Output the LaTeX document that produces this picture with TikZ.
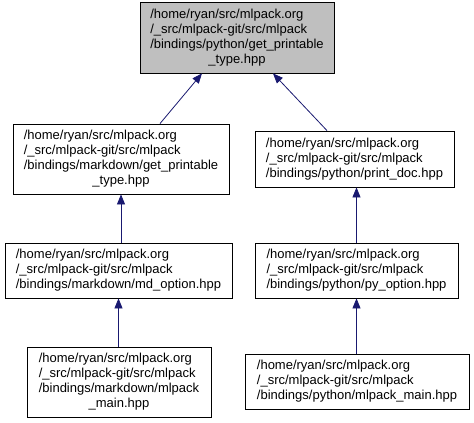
\documentclass[tikz,border=0pt]{standalone}
\usepackage{fontspec}
\setmainfont{Liberation Sans}
\usetikzlibrary{arrows.meta}
\definecolor{edgeblue}{HTML}{191970}
\definecolor{rootgray}{HTML}{BFBFBF}
\tikzset{file/.style={draw=black,line width=0.8pt,inner sep=0pt,font=\fontsize{13}{15}\selectfont},
  edge/.style={edgeblue,line width=0.8pt,{Triangle[length=10pt,width=8pt]}-}}
\begin{document}
\begin{tikzpicture}[x=1pt,y=-1pt]
      \useasboundingbox (0,0) rectangle (474,423);
      \node[file,fill=rootgray,minimum width=194pt,minimum height=71pt] (G) at (237,37.5)
            {\begin{tabular}{@{}l@{}}/home/ryan/src/mlpack.org\\/\_src/mlpack-git/src/mlpack\\/bindings/python/get\_printable\\\multicolumn{1}{@{}c@{}}{\_type.hpp}\end{tabular}};
      \node[file,minimum width=216pt,minimum height=70pt] (MG) at (121,159)
            {\begin{tabular}{@{}l@{}}/home/ryan/src/mlpack.org\\/\_src/mlpack-git/src/mlpack\\/bindings/markdown/get\_printable\\\multicolumn{1}{@{}c@{}}{\_type.hpp}\end{tabular}};
      \node[file,minimum width=199pt,minimum height=56pt] (PD) at (354.5,159)
            {\begin{tabular}{@{}l@{}}/home/ryan/src/mlpack.org\\/\_src/mlpack-git/src/mlpack\\/bindings/python/print\_doc.hpp\end{tabular}};
      \node[file,minimum width=227pt,minimum height=55pt] (MO) at (118.5,270.5)
            {\begin{tabular}{@{}l@{}}/home/ryan/src/mlpack.org\\/\_src/mlpack-git/src/mlpack\\/bindings/markdown/md\_option.hpp\end{tabular}};
      \node[file,minimum width=203pt,minimum height=55pt] (PO) at (356.5,270.5)
            {\begin{tabular}{@{}l@{}}/home/ryan/src/mlpack.org\\/\_src/mlpack-git/src/mlpack\\/bindings/python/py\_option.hpp\end{tabular}};
      \node[file,minimum width=184pt,minimum height=70pt] (MM) at (119,382)
            {\begin{tabular}{@{}l@{}}/home/ryan/src/mlpack.org\\/\_src/mlpack-git/src/mlpack\\/bindings/markdown/mlpack\\\multicolumn{1}{@{}c@{}}{\_main.hpp}\end{tabular}};
      \node[file,minimum width=224pt,minimum height=55pt] (PM) at (357,381.5)
            {\begin{tabular}{@{}l@{}}/home/ryan/src/mlpack.org\\/\_src/mlpack-git/src/mlpack\\/bindings/python/mlpack\_main.hpp\end{tabular}};

      \draw[edge] ([xshift=-35pt]G.south) -- ([xshift=39pt]MG.north);
      \draw[edge] ([xshift=36pt]G.south) -- ([xshift=-27.5pt]PD.north);
      \draw[edge] (MG.south) -- (MG.south |- MO.north);
      \draw[edge] (PD.south -| PO.north) -- (PO.north);
      \draw[edge] (MO.north |- MO.south) -- (MO.north |- MM.north);
      \draw[edge] (PO.south) -- (PO.south |- PM.north);
\end{tikzpicture}
\end{document}
